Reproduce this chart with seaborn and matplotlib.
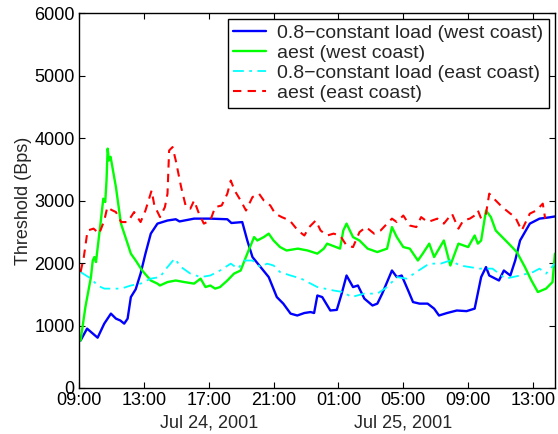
import numpy as np
import pandas as pd
import matplotlib
matplotlib.use("Agg")
import matplotlib.pyplot as plt
import matplotlib.transforms as mtransforms
import seaborn as sns

# hours after 2001-07-24 09:00 and threshold values (Bps)
west_const_h = [0.1, 0.5, 1.15, 1.56, 1.97, 2.28, 2.55, 2.79, 3.0, 3.2, 3.5, 3.8, 4.1, 4.43, 4.84, 5.46, 5.97, 6.2, 7.1, 8.1, 9.15, 9.4, 10.07, 10.38, 10.7, 11.2, 11.7, 12.2, 12.6, 13.05, 13.46, 13.9, 14.28, 14.5, 14.7, 15.0, 15.5, 15.9, 16.2, 16.5, 16.9, 17.2, 17.6, 18.1, 18.4, 18.7, 19.0, 19.3, 19.6, 19.9, 20.3, 20.6, 21.0, 21.5, 21.9, 22.2, 22.7, 23.3, 23.9, 24.4, 24.8, 25.1, 25.3, 25.9, 26.2, 26.6, 26.9, 27.2, 27.8, 28.4, 29.0, 29.35]
west_const_v = [760, 950, 805, 1030, 1190, 1110, 1080, 1030, 1110, 1455, 1580, 1830, 2150, 2470, 2630, 2680, 2700, 2665, 2710, 2710, 2700, 2640, 2655, 2360, 2095, 1935, 1775, 1455, 1350, 1190, 1160, 1200, 1215, 1200, 1480, 1455, 1240, 1250, 1510, 1800, 1615, 1640, 1430, 1320, 1350, 1510, 1695, 1880, 1775, 1800, 1560, 1375, 1350, 1350, 1270, 1160, 1200, 1240, 1230, 1270, 1775, 1935, 1800, 1720, 1880, 1800, 2040, 2360, 2630, 2710, 2730, 2745]

west_aest_h = [0.1, 0.4, 0.74, 0.85, 0.95, 1.05, 1.35, 1.5, 1.62, 1.7, 1.77, 1.85, 1.95, 2.28, 2.59, 3.0, 3.2, 3.5, 3.9, 4.43, 4.84, 4.99, 5.46, 5.97, 6.5, 7.1, 7.5, 7.8, 8.1, 8.4, 8.7, 9.15, 9.56, 9.97, 10.38, 10.8, 11.0, 11.4, 11.7, 12.0, 12.4, 12.8, 13.5, 14.1, 14.7, 15.1, 15.3, 16.1, 16.3, 16.5, 16.9, 17.3, 17.8, 18.4, 19.0, 19.3, 19.6, 20.0, 20.4, 20.9, 21.2, 21.6, 21.9, 22.5, 22.9, 23.4, 24.0, 24.4, 24.6, 24.8, 25.1, 25.4, 25.7, 26.5, 27.0, 27.5, 27.9, 28.3, 28.8, 29.2, 29.35]
west_aest_v = [760, 1300, 1775, 2040, 2095, 2015, 2680, 3030, 2975, 3320, 3830, 3640, 3700, 3215, 2630, 2310, 2150, 2040, 1880, 1720, 1670, 1640, 1695, 1720, 1695, 1670, 1750, 1615, 1640, 1590, 1615, 1720, 1830, 1880, 2150, 2415, 2360, 2415, 2470, 2360, 2255, 2200, 2230, 2200, 2150, 2230, 2310, 2230, 2520, 2630, 2415, 2360, 2230, 2175, 2230, 2575, 2415, 2255, 2230, 2040, 2150, 2310, 2095, 2360, 1960, 2310, 2255, 2440, 2310, 2360, 2840, 2735, 2520, 2310, 2175, 1935, 1720, 1535, 1590, 1695, 2150]

east_const_h = [0.1, 0.74, 1.15, 1.56, 1.97, 2.6, 3.2, 3.8, 4.43, 4.99, 5.46, 5.9, 6.3, 6.87, 7.5, 8.1, 8.7, 9.36, 9.8, 10.2, 10.7, 11.2, 11.6, 12.0, 12.4, 13.05, 13.7, 14.7, 15.7, 16.3, 16.8, 17.6, 18.4, 19.0, 19.6, 20.2, 20.8, 21.6, 22.3, 22.9, 23.5, 24.1, 24.7, 25.5, 26.3, 27.2, 28.0, 28.4, 28.8, 29.35]
east_const_v = [1855, 1750, 1640, 1590, 1590, 1590, 1640, 1670, 1750, 1775, 1935, 2070, 1935, 1830, 1775, 1800, 1880, 1990, 1910, 2040, 2040, 1935, 1990, 1960, 1855, 1800, 1750, 1615, 1560, 1535, 1455, 1510, 1510, 1615, 1775, 1750, 1855, 1990, 1990, 2040, 1960, 1935, 1910, 1910, 1750, 1800, 1855, 1910, 1830, 1990]

east_aest_h = [0.1, 0.3, 0.53, 0.9, 1.25, 1.56, 1.75, 2.0, 2.28, 2.6, 3.0, 3.4, 3.8, 4.1, 4.48, 4.65, 5.0, 5.3, 5.46, 5.56, 5.77, 5.97, 6.3, 6.6, 6.87, 7.1, 7.4, 7.7, 8.1, 8.4, 8.8, 9.15, 9.36, 9.6, 9.97, 10.3, 10.7, 11.1, 11.4, 11.8, 12.1, 12.5, 13.0, 13.5, 13.9, 14.2, 14.6, 14.9, 15.3, 15.7, 16.1, 16.5, 16.9, 17.3, 17.7, 18.2, 18.6, 19.0, 19.3, 19.6, 20.0, 20.4, 20.8, 21.1, 21.5, 22.1, 22.5, 23.0, 23.4, 23.7, 24.1, 24.4, 24.6, 24.8, 25.1, 25.3, 25.7, 26.1, 26.6, 26.9, 27.3, 27.8, 28.2, 28.6, 28.75]
east_aest_v = [1855, 2095, 2520, 2550, 2470, 2680, 2895, 2850, 2815, 2655, 2655, 2815, 2655, 2840, 3160, 2920, 2735, 2895, 3110, 3800, 3855, 3640, 3215, 2895, 2870, 3000, 2790, 2630, 2680, 2895, 2920, 3110, 3320, 3160, 3000, 2840, 3055, 3110, 3000, 2920, 2790, 2735, 2680, 2520, 2440, 2575, 2680, 2520, 2440, 2470, 2440, 2280, 2255, 2495, 2575, 2470, 2520, 2630, 2710, 2655, 2760, 2600, 2575, 2735, 2655, 2710, 2630, 2790, 2550, 2680, 2710, 2760, 2840, 2710, 2790, 3110, 3000, 2895, 2790, 2735, 2520, 2790, 2840, 2950, 2710]

labels = ["0.8\u2212constant load (west coast)", "aest (west coast)",
          "0.8\u2212constant load (east coast)", "aest (east coast)"]

tick_hours = [0, 4, 8, 12, 16, 20, 24, 28]
tick_labels = ["09:00", "13:00", "17:00", "21:00", "01:00", "05:00", "09:00", "13:00"]
date_hours = [8, 20]
date_labels = ["Jul 24, 2001", "Jul 25, 2001"]

start = pd.Timestamp("2001-07-24 09:00")
def to_time(h):
    return start + pd.to_timedelta(np.asarray(h, dtype=float), unit="h")

sns.set_style("ticks")
plt.rcParams["font.family"] = ["Liberation Sans", "DejaVu Sans"]

fig = plt.figure(figsize=(5.58, 4.34), dpi=100)
ax = fig.add_axes([0.1415, 0.106, 0.853, 0.864])

series = [
    (west_const_h, west_const_v, "#0000ff", "-", 1.7),
    (west_aest_h, west_aest_v, "#00ff00", "-", 1.7),
    (east_const_h, east_const_v, "#00ffff", (0, (6, 3, 1.5, 3)), 1.3),
    (east_aest_h, east_aest_v, "#ff0000", (0, (4, 3)), 1.5),
]
for (h, v, c, ls, lw), lab in zip(series, labels):
    df = pd.DataFrame({"time": to_time(h), "value": v})
    sns.lineplot(data=df, x="time", y="value", ax=ax, color=c, linestyle=ls,
                 linewidth=lw, label=lab)

ax.set_xlim(start, start + pd.Timedelta(hours=29.35))
ax.set_ylim(0, 6000)
ax.set_yticks([0, 1000, 2000, 3000, 4000, 5000, 6000])

ax.set_xticks(list(to_time(tick_hours)))
ax.set_xticklabels(tick_labels, fontsize=13)
for t in ax.get_yticklabels():
    t.set_fontsize(13)
# nudge the "0" label up a little so it does not collide with "09:00"
ylabs = ax.get_yticklabels()
ylabs[0].set_transform(ylabs[0].get_transform() +
                       mtransforms.ScaledTranslation(0, 3 / 72, fig.dpi_scale_trans))

trans = mtransforms.blended_transform_factory(ax.transData, ax.transAxes)
for h, lab in zip(date_hours, date_labels):
    ax.text(to_time([h])[0], -0.07, lab, transform=trans, ha="center",
            va="top", fontsize=13)

ax.set_xlabel("")
ax.set_ylabel("Threshold (Bps)", fontsize=13, labelpad=2)
ax.tick_params(direction="in", top=True, right=True, length=4, width=0.8,
               pad=3, colors="black")
for s in ax.spines.values():
    s.set_visible(True)
    s.set_linewidth(1.0)
    s.set_color("black")

leg = ax.legend(loc="upper right", fontsize=14, frameon=True, fancybox=False,
                edgecolor="black", framealpha=1, borderpad=0.3,
                labelspacing=0.12, handlelength=1.7, handletextpad=0.55,
                borderaxespad=0.3)
leg.get_frame().set_linewidth(1.0)

fig.savefig("out.png", dpi=100)
